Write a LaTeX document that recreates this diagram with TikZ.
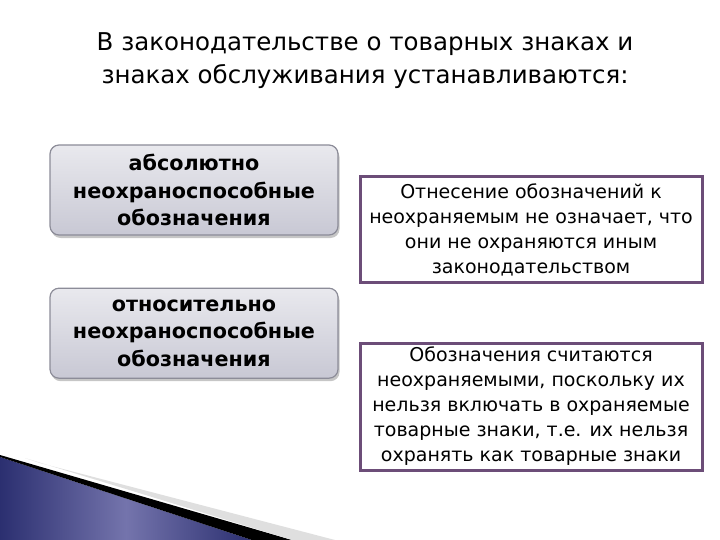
\documentclass[tikz,border=0pt]{standalone}
\usepackage{fontspec}
\setmainfont{DejaVu Sans}
\usetikzlibrary{positioning}
\usetikzlibrary{shadows}
\definecolor{boxgray}{HTML}{C8C8D4}
\definecolor{boxedge}{HTML}{8C8C98}
\definecolor{plum}{HTML}{6C4D78}
\definecolor{navy}{HTML}{2B2F70}
\definecolor{navylight}{HTML}{7474AC}
\tikzset{leftbox/.style={draw=boxedge, line width=1.2pt, rounded corners=9pt,
top color=boxgray!40, bottom color=boxgray, minimum width=288pt, minimum height=90pt,
align=center, font=\fontsize{20.7}{27.5}\selectfont\bfseries,
drop shadow={shadow xshift=1.5pt, shadow yshift=-3pt, opacity=.45}},
rightbox/.style={draw=plum, line width=3pt, fill=white, minimum width=342pt,
align=center, font=\fontsize{19}{25}\selectfont},
title/.style={align=center, font=\fontsize{24.5}{33}\selectfont}}

\begin{document}
\begin{tikzpicture}[x=1pt, y=-1pt]
\useasboundingbox (0,0) rectangle (720,540);

% corner decoration
\shade[left color=navy, right color=navy, middle color=navylight]
  (0,457) -- (252,540) -- (0,540) -- cycle;
\fill[black] (0,455) -- (292,540) -- (252,540) -- (0,457) -- cycle;
\fill[gray!25] (40,463) -- (335,540) -- (292,540) -- (25,458) -- cycle;

\node[title] (head) at (365,61) {В законодательстве о товарных знаках и\\знаках обслуживания устанавливаются:};

\node[leftbox] (abs) at (194,190) {абсолютно\\неохраноспособные\\обозначения};
\node[leftbox, below=52pt of abs] (rel) {относительно\\неохраноспособные\\обозначения};

\node[rightbox, minimum height=105pt] (note1) at (531,229.5) {Отнесение обозначений к\\неохраняемым не означает, что\\они не охраняются иным\\законодательством};
\node[rightbox, minimum height=127pt] (note2) at (531,406.5) {Обозначения считаются\\неохраняемыми, поскольку их\\нельзя включать в охраняемые\\товарные знаки, т.е. их нельзя\\охранять как товарные знаки};
\end{tikzpicture}
\end{document}
